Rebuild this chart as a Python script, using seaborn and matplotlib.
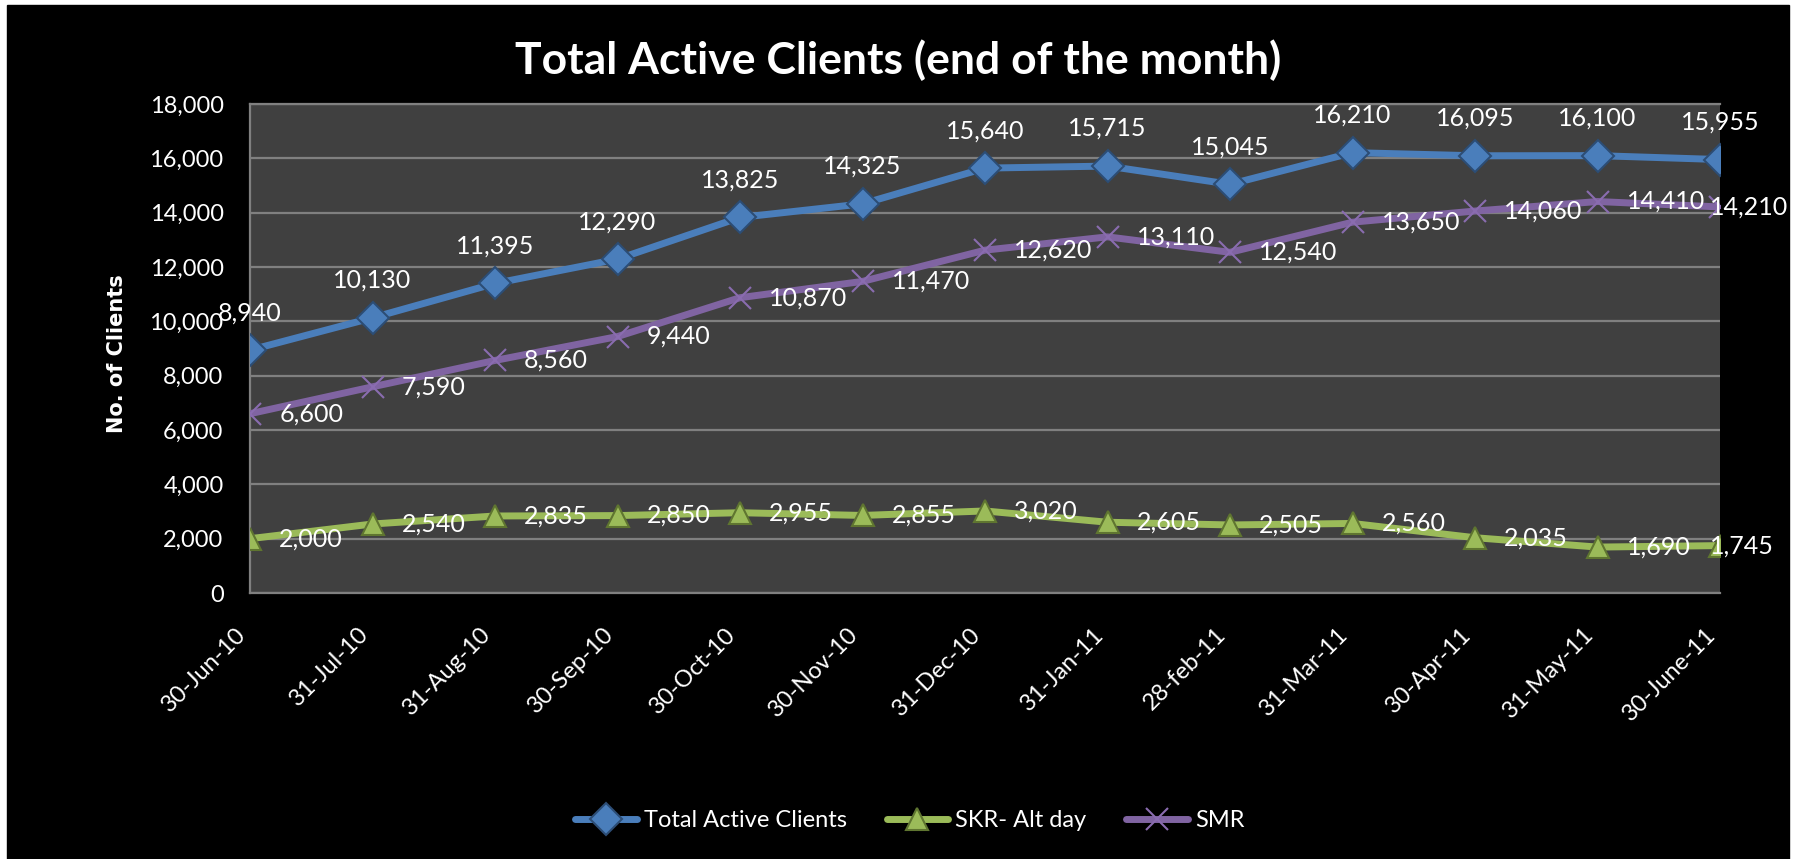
import matplotlib
matplotlib.use('Agg')
import matplotlib.pyplot as plt
import seaborn as sns
import pandas as pd
from matplotlib.patches import Rectangle

# data
dates = ['30-Jun-10', '31-Jul-10', '31-Aug-10', '30-Sep-10', '30-Oct-10', '30-Nov-10',
         '31-Dec-10', '31-Jan-11', '28-feb-11', '31-Mar-11', '30-Apr-11', '31-May-11',
         '30-June-11']
total_active = [8940, 10130, 11395, 12290, 13825, 14325, 15640, 15715, 15045, 16210,
                16095, 16100, 15955]
skr_alt_day = [2000, 2540, 2835, 2850, 2955, 2855, 3020, 2605, 2505, 2560, 2035, 1690, 1745]
smr = [6600, 7590, 8560, 9440, 10870, 11470, 12620, 13110, 12540, 13650, 14060, 14410, 14210]
series_names = ['Total Active Clients', 'SKR- Alt day', 'SMR']
y_ticks = list(range(0, 18001, 2000))

colors = {'Total Active Clients': '#4a7ebb', 'SKR- Alt day': '#9bbb59', 'SMR': '#8064a2'}
edges = {'Total Active Clients': '#2c4d75', 'SKR- Alt day': '#5f7530', 'SMR': '#8a6cb0'}
markers = {'Total Active Clients': 'D', 'SKR- Alt day': '^', 'SMR': 'x'}
msizes = {'Total Active Clients': 20, 'SKR- Alt day': 25, 'SMR': 22}

df = pd.DataFrame({'pos': list(range(len(dates))) * 3,
                   'clients': total_active + skr_alt_day + smr,
                   'series': [s for s in series_names for _ in dates]})

sns.set_style('dark')
plt.rcParams['font.family'] = ['Lato', 'DejaVu Sans']

fig = plt.figure(figsize=(17.98, 8.59), dpi=100, facecolor='white')
# black chart area inside a thin white border
fig.patches.append(Rectangle((7 / 1798, 0), 1782 / 1798, 854 / 859,
                             transform=fig.transFigure, color='black', zorder=-10))
ax = fig.add_axes([250 / 1798, 1 - 593 / 859, 1470 / 1798, 489 / 859])
ax.set_facecolor('#404040')

for name in series_names:
    sub = df[df['series'] == name]
    sns.lineplot(data=sub, x='pos', y='clients', ax=ax, color=colors[name],
                 linewidth=7, marker=markers[name], markersize=msizes[name],
                 markerfacecolor=colors[name], markeredgecolor=edges[name],
                 markeredgewidth=1.5, label=name, zorder=3)

n = len(dates)
for i, v in enumerate(total_active):
    ax.annotate(f'{v:,}', (i, v), xytext=(0, 27), textcoords='offset points',
                ha='center', va='center', color='white', fontsize=18, zorder=5)
for vals in (smr, skr_alt_day):
    for i, v in enumerate(vals):
        dx = -7 if i == n - 1 else 21
        ax.annotate(f'{v:,}', (i, v), xytext=(dx, 0), textcoords='offset points',
                    ha='left', va='center', color='white', fontsize=18, zorder=5,
                    annotation_clip=False)

ax.set_xlim(0, n - 1)
ax.set_ylim(0, 18000)
ax.set_yticks(y_ticks)
ax.set_yticklabels([f'{t:,}' for t in y_ticks])
ax.set_xticks(range(n))
ax.set_xticklabels(dates, rotation=45, ha='right', va='top')
ax.tick_params(axis='y', colors='white', labelsize=17, length=0, pad=19)
ax.tick_params(axis='x', colors='white', labelsize=17, length=0, pad=22)
ax.grid(axis='y', color='#808080', linewidth=1.6)
ax.grid(axis='x', visible=False)
ax.set_axisbelow(True)
for side in ['left', 'bottom', 'top']:
    ax.spines[side].set_visible(True)
    ax.spines[side].set_color('#808080')
    ax.spines[side].set_linewidth(1.6)
ax.spines['right'].set_visible(False)

ax.set_xlabel('')
ax.set_ylabel('No. of Clients', color='white', fontsize=15, fontweight='bold',
              family='DejaVu Sans')
ax.yaxis.set_label_coords(-0.084, 0.49)

fig.suptitle('Total Active Clients (end of the month)', x=0.4995, y=0.93, va='center',
             color='white', fontsize=32, fontweight='bold')

handles, labels = ax.get_legend_handles_labels()
ax.get_legend().remove()
for h in handles:
    h.set_linewidth(5)
    h.set_markersize(16)
fig.legend(handles, labels, loc='center', bbox_to_anchor=(0.506, 0.045), ncol=3,
           frameon=False, fontsize=17, labelcolor='white', handlelength=2.6,
           handletextpad=0.3, columnspacing=1.7)

fig.savefig('out.png', dpi=100, facecolor=fig.get_facecolor())
